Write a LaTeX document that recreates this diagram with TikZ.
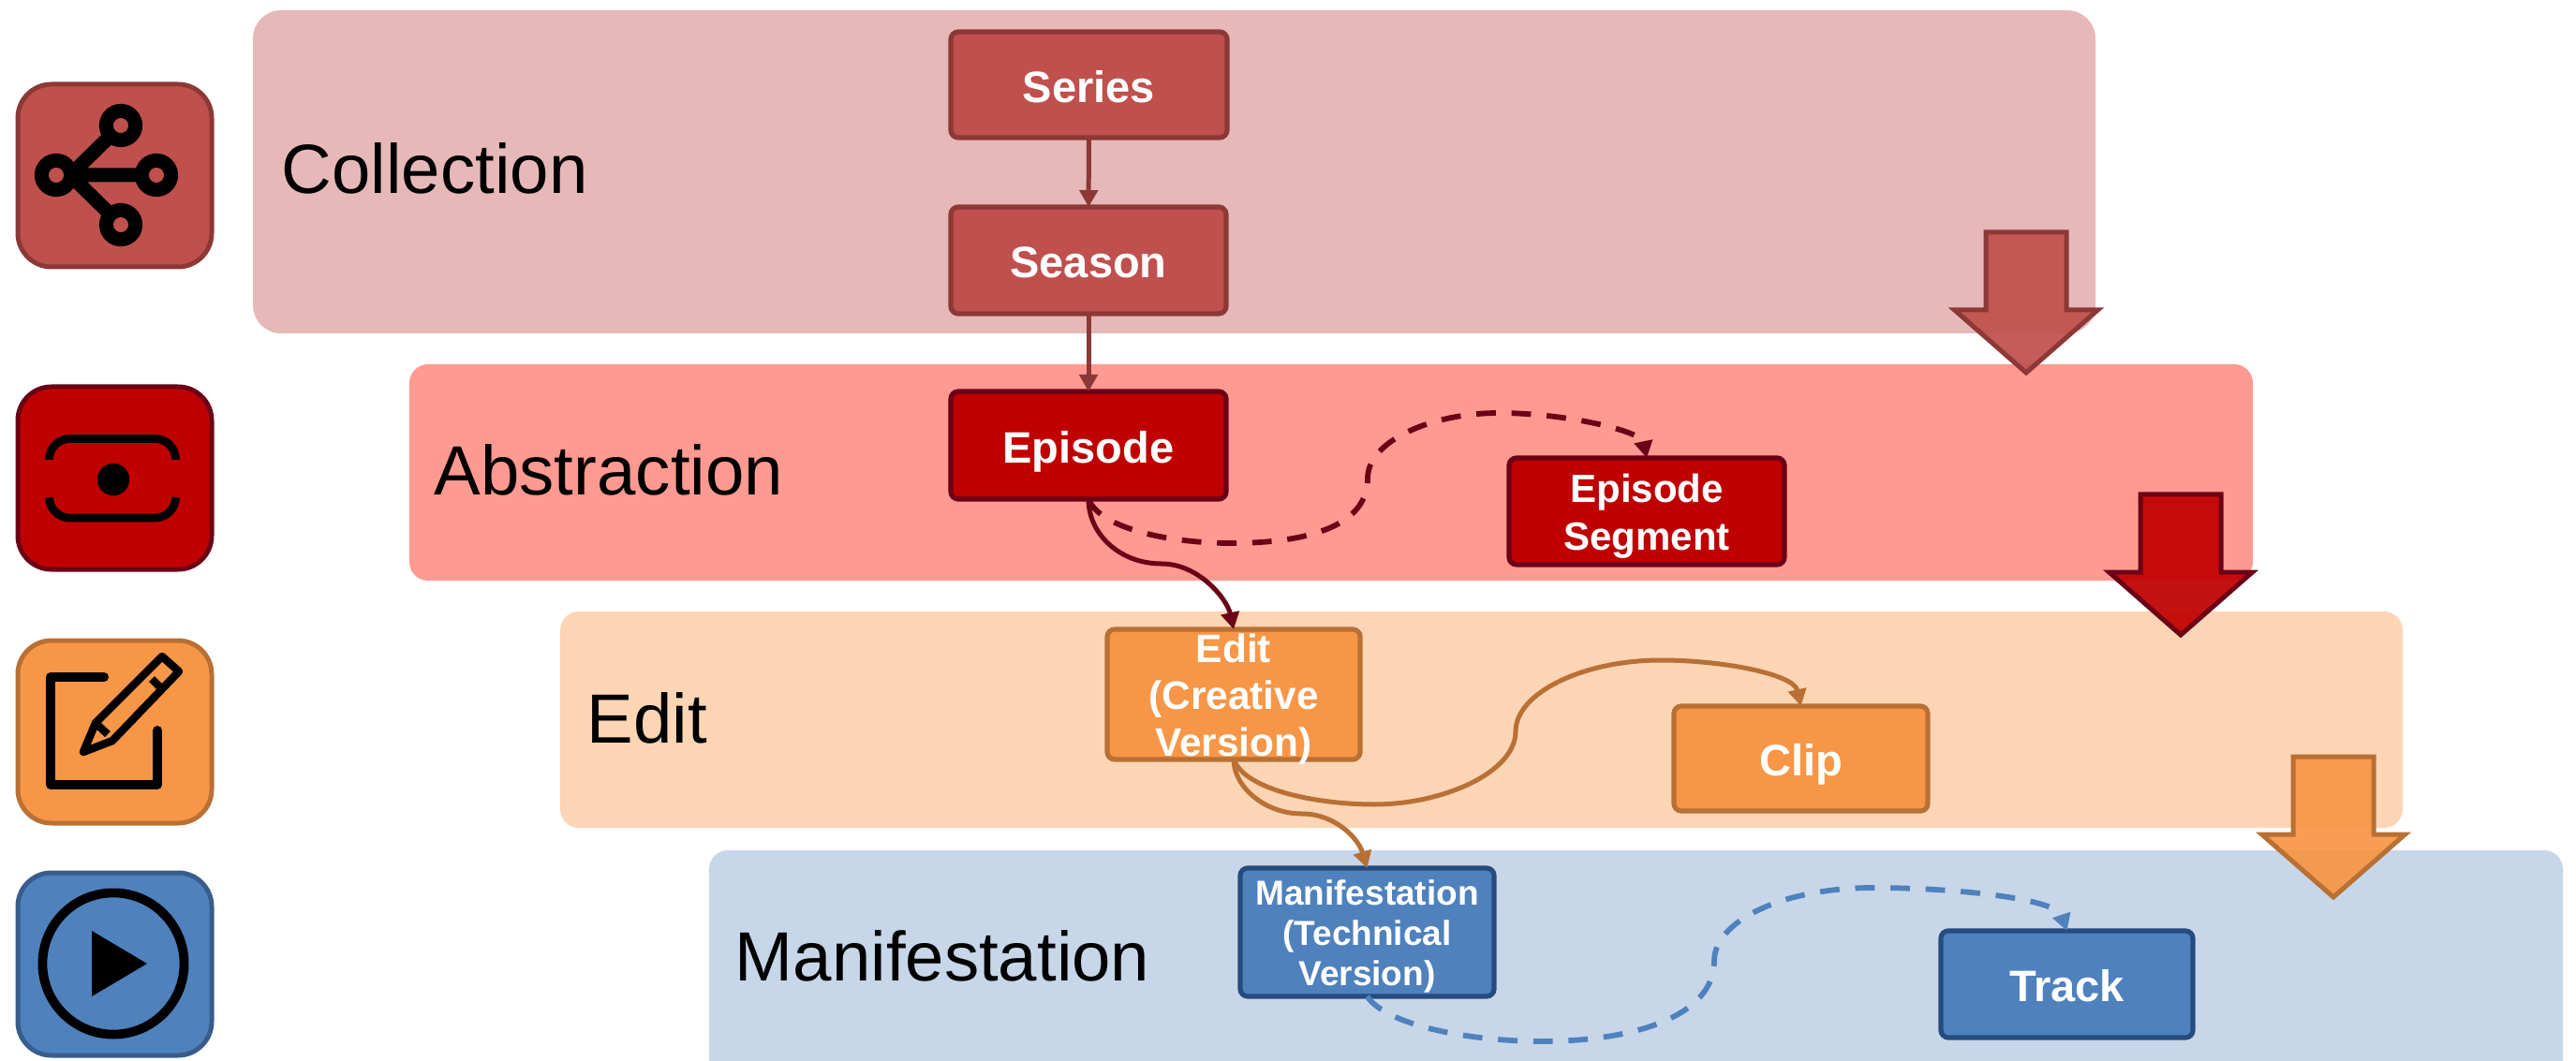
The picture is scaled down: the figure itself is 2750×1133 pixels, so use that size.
\documentclass[tikz,border=0pt]{standalone}
\usepackage{fontspec}
\setmainfont{Liberation Sans}
\usetikzlibrary{arrows.meta}
\definecolor{colBand}{HTML}{E6B9B8}
\definecolor{absBand}{HTML}{FF9A92}
\definecolor{ediBand}{HTML}{FCD5B5}
\definecolor{manBand}{HTML}{C8D6E9}
\definecolor{colFill}{HTML}{C0504D}
\definecolor{colLine}{HTML}{8C3836}
\definecolor{absFill}{HTML}{C00000}
\definecolor{absLine}{HTML}{6B0016}
\definecolor{ediFill}{HTML}{F79646}
\definecolor{ediLine}{HTML}{B87035}
\definecolor{manFill}{HTML}{4F81BD}
\definecolor{manLine}{HTML}{264B7E}
\definecolor{manIconLine}{HTML}{385D8A}
% text is taken out of the height of its box, so that it may overflow as in the reference
\newcommand{\stk}[4]{\raisebox{-#1pt}[0pt][0pt]{\fontsize{#2}{#3}\selectfont\bfseries\begin{tabular}{@{}c@{}}#4\end{tabular}}}
\newcommand{\bigarrow}[4]{%
  \path[draw=#3,fill=#4,fill opacity=.93,line width=1.25pt,miter limit=10]
    (#1-43,#2) -- (#1+43,#2) -- (#1+43,#2+83) -- (#1+76.5,#2+83) -- (#1,#2+150)
    -- (#1-76.5,#2+83) -- (#1-43,#2+83) -- cycle;}
\tikzset{
  x=0.25pt,y=-0.25pt,
  bandtitle/.style={anchor=base west,inner sep=0pt,font=\fontsize{18.6}{22}\selectfont},
  nodebox/.style 2 args={draw,rounded corners=2pt,line width=1.3pt,inner sep=0pt,outer sep=0pt,
    text=white,minimum width=#1*0.25pt,minimum height=#2*0.25pt},
  colbox/.style={fill=colFill,draw=colLine},
  absbox/.style={fill=absFill,draw=absLine},
  edibox/.style={fill=ediFill,draw=ediLine},
  manbox/.style={fill=manFill,draw=manLine},
  iconbox/.style={draw,rounded corners=9pt,line width=1.25pt},
  conn/.style={line width=1.25pt,-{Triangle[length=4.5pt,width=4.8pt]}},
  dashconn/.style={conn,line width=1.45pt,dash pattern=on 5.2pt off 4.2pt}
}
\begin{document}
\begin{tikzpicture}
\useasboundingbox (0,0) rectangle (2750,1133);
% bands
\fill[colBand,rounded corners=7.5pt] (270,11) rectangle (2237,356);
\fill[absBand,rounded corners=5pt] (437,389) rectangle (2405,620);
\fill[ediBand,rounded corners=5pt] (598,653) rectangle (2565,884);
\fill[manBand,rounded corners=5pt] (757,1133) -- (757,908) -- (2736,908) -- (2736,1133);
% band titles
\node[bandtitle] (tcol) at (300,207) {Collection};
\node[bandtitle] (tabs) at (463,528) {Abstraction};
\node[bandtitle] (tedi) at (626,793) {Edit};
\node[bandtitle] (tman) at (784,1047) {Manifestation};
% icon 1
\path[iconbox,fill=colFill,draw=colLine] (19,90) rectangle (226,285);
\draw[black,line width=3.75pt] (75,187) -- (129,134) (75,187) -- (167,187) (75,187) -- (129,240);
\foreach \cx/\cy in {60/187,129/134,167/187,129/240}
  \draw[black,line width=3.75pt,fill=colFill] (\cx,\cy) circle[radius=3.9pt];
% icon 2
\path[iconbox,fill=absFill,draw=absLine] (19,413) rectangle (226,608);
\draw[black,line width=2.2pt,rounded corners=5.5pt] (52.5,491) -- (52.5,468.5) -- (187.5,468.5) -- (187.5,491);
\draw[black,line width=2.2pt,rounded corners=5.5pt] (52.5,531) -- (52.5,553) -- (187.5,553) -- (187.5,531);
\fill[black] (121,512) circle[radius=4.3pt];
% icon 3
\path[iconbox,fill=ediFill,draw=ediLine] (19,684) rectangle (226,879);
\draw[black,line width=2.5pt,line cap=round,line join=round] (111,723) -- (54,723) -- (54,838) -- (168,838) -- (168,780);
\draw[black,line width=2.1pt,line join=round] (89,803) -- (102,772) -- (173,701) -- (191,717) -- (120,791) -- cycle;
\draw[black,line width=2.1pt] (105,775) -- (115,784) (162,725) -- (173,736);
% icon 4
\path[iconbox,fill=manFill,draw=manIconLine] (19,932) rectangle (226,1127);
\draw[black,line width=2.45pt] (121,1029) circle[radius=18.9pt];
\fill[black] (98,994) -- (157,1029) -- (98,1064) -- cycle;
% boxes
\node[nodebox={295}{113},colbox] (series) at (1162.5,90.5) {\stk{4.9}{11.75}{14}{Series}};
\node[nodebox={294}{114},colbox] (season) at (1162,278) {\stk{4.9}{11.75}{14}{Season}};
\node[nodebox={294}{115},absbox] (episode) at (1162,475.5) {\stk{4.9}{11.75}{14}{Episode}};
\node[nodebox={294}{114},absbox] (segment) at (1758,546) {\stk{4.2}{10.5}{12.7}{Episode\\Segment}};
\node[nodebox={270}{139},edibox] (edit) at (1317,741.5) {\stk{4.2}{10.6}{12.6}{Edit\\(Creative\\Version)}};
\node[nodebox={271}{112},edibox] (clip) at (1922.5,810) {\stk{4.9}{11.75}{14}{Clip}};
\node[nodebox={271}{137},manbox] (manif) at (1459.5,995.5) {\stk{3.6}{9.25}{10.8}{Manifestation\\(Technical\\Version)}};
\node[nodebox={269}{114},manbox] (track) at (2206.5,1051) {\stk{4.9}{11.75}{14}{Track}};
% connectors
\draw[conn,colLine] (series) -- (season);
\draw[conn,colLine] (season) -- (episode);
\draw[dashconn,absLine] (episode.south) .. controls (1175,565) and (1250,580) .. (1314,580)
  .. controls (1400,580) and (1460,560) .. (1460,511)
  .. controls (1460,470) and (1530,441) .. (1600,441)
  .. controls (1670,441) and (1752,460) .. (segment.north);
\draw[conn,absLine] (episode.south) .. controls (1162,570) and (1195,602) .. (1240,602)
  .. controls (1280,602) and (1310,640) .. (edit.north);
\draw[conn,ediLine] (edit.south) .. controls (1330,845) and (1410,859) .. (1467,859)
  .. controls (1540,859) and (1618,825) .. (1618,781)
  .. controls (1618,740) and (1690,705) .. (1773,705)
  .. controls (1840,705) and (1915,720) .. (clip.north);
\draw[conn,ediLine] (edit.south) .. controls (1317,840) and (1350,869) .. (1390,869)
  .. controls (1425,869) and (1450,895) .. (manif.north);
\draw[dashconn,manFill] (manif.south) .. controls (1480,1095) and (1570,1112) .. (1645,1112)
  .. controls (1745,1112) and (1830,1085) .. (1830,1026)
  .. controls (1830,985) and (1900,948) .. (2000,948)
  .. controls (2090,948) and (2195,960) .. (track.north);
% block arrows
\bigarrow{2163}{248}{colLine}{colFill}
\bigarrow{2328}{528}{absLine}{absFill}
\bigarrow{2491}{808}{ediLine}{ediFill}
\end{tikzpicture}
\end{document}
